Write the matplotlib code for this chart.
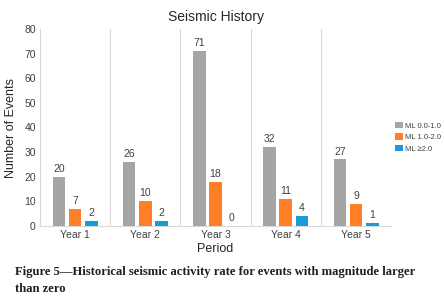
import matplotlib
matplotlib.use("Agg")
import matplotlib.pyplot as plt
import numpy as np

# ---------------------------------------------------------------------------
# Data
# ---------------------------------------------------------------------------
periods = ["Year 1", "Year 2", "Year 3", "Year 4", "Year 5"]
series_names = ["ML 0.0-1.0", "ML 1.0-2.0", "ML \u22652.0"]
ml_0_1 = [20, 26, 71, 32, 27]
ml_1_2 = [7, 10, 18, 11, 9]
ml_2up = [2, 2, 0, 4, 1]

COLORS = ["#A5A5A5", "#FF7F27", "#1A9BD7"]
TEXT = "#404040"

plt.rcParams.update({
    "font.family": ["Liberation Sans", "DejaVu Sans"],
})

fig = plt.figure(figsize=(4.44, 3.0), dpi=100)
ax = fig.add_axes([0.090, 0.247, 0.791, 0.656])

x = np.arange(len(periods))
width = 0.18
offsets = [-0.23, 0.0, 0.23]

for vals, name, col, off in zip([ml_0_1, ml_1_2, ml_2up], series_names, COLORS, offsets):
    ax.bar(x + off, vals, width, color=col, label=name, zorder=3)
    for xi, v in zip(x + off, vals):
        ax.text(xi, v + 1.2, f"{v}", ha="center", va="bottom",
                fontsize=7.5, color=TEXT)

ax.set_xlim(-0.5, len(periods) - 0.5)
ax.set_ylim(0, 80)
ax.set_yticks(range(0, 81, 10))
ax.set_xticks(x)
ax.set_xticklabels(periods)

# vertical separators between categories
for b in np.arange(-0.5, len(periods)):
    ax.axvline(b, color="#D9D9D9", linewidth=0.8, zorder=1)

for s in ["top", "right", "left"]:
    ax.spines[s].set_visible(False)
ax.spines["bottom"].set_color("#D9D9D9")
ax.tick_params(axis="both", length=0, labelsize=7.5, colors=TEXT, pad=3)

ax.set_xlabel("Period", fontsize=9, color="#262626", labelpad=2)
ax.set_ylabel("Number of Events", fontsize=9, color="#262626", labelpad=5)
ax.set_title("Seismic History", fontsize=10, color="#262626", pad=6)

ax.legend(loc="center left", bbox_to_anchor=(1.012, 0.45), frameon=False,
          borderaxespad=0, borderpad=0,
          fontsize=5.5, handlelength=1.0, handleheight=0.9, handletextpad=0.3,
          labelspacing=0.5, labelcolor=TEXT)

cap_kw = dict(fontsize=9.1, fontweight="bold", family="Liberation Serif", color="#231F20")
fig.text(0.034, 0.082, "Figure 5\u2014Historical seismic activity rate for events with magnitude larger", **cap_kw)
fig.text(0.034, 0.028, "than zero", **cap_kw)

fig.savefig("out.png", dpi=100)
